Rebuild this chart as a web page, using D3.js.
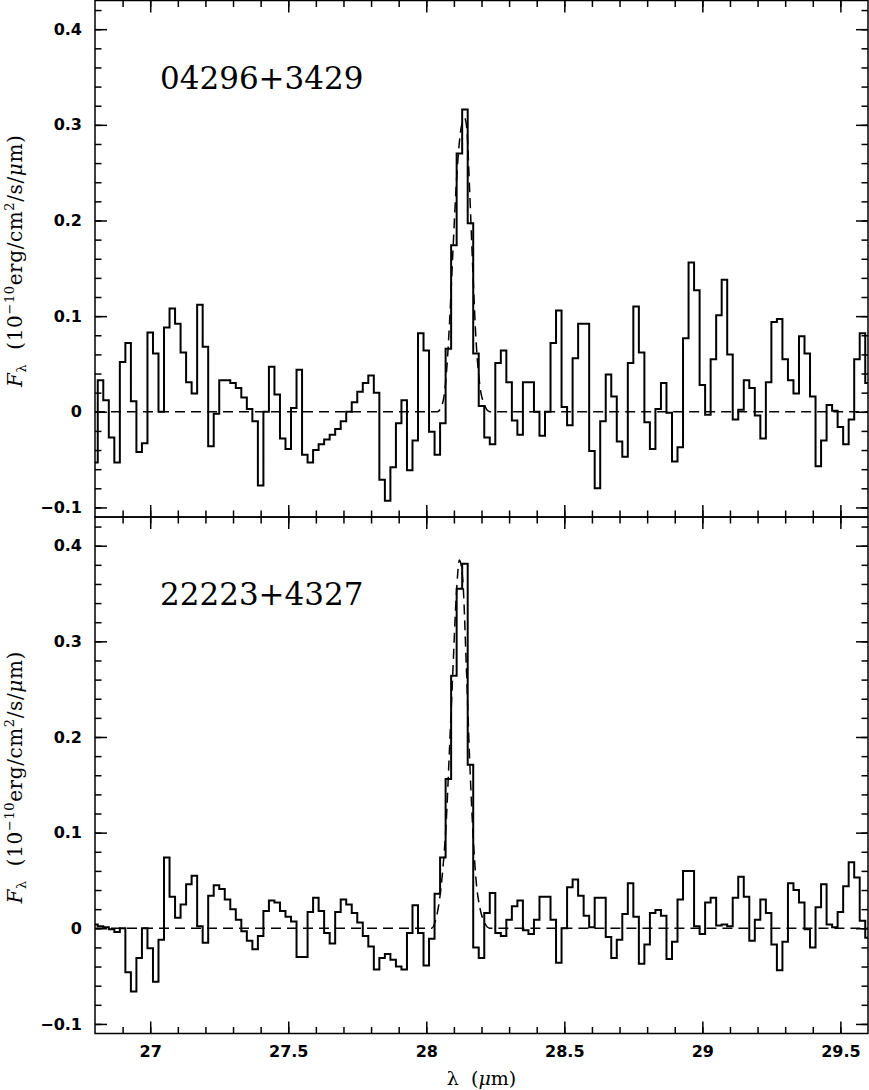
<!DOCTYPE html>
<html>
<head>
<meta charset="utf-8">
<script src="https://cdn.jsdelivr.net/npm/d3@7"></script>
<style>
body { margin: 0; background: #fff; }
svg { display: block; }
</style>
</head>
<body>
<svg id="chart" width="869" height="1090"></svg>
<script>
// wavelength grid of the spectra (bin centres, micron)
const lambdaStart = 26.80;
const binWidth = 0.02;

// flux per bin, 10^-10 erg/cm2/s/um
const flux04296 = [
  -0.053, 0.033, 0.012, -0.027, -0.053, 0.052, 0.072, 0.011, -0.042, -0.033,
  0.083, 0.061, 0.000, 0.088, 0.108, 0.092, 0.062, 0.031, 0.019, 0.112,
  0.068, -0.036, -0.002, 0.033, 0.033, 0.030, 0.025, 0.015, 0.003, -0.010,
  -0.077, 0.000, 0.047, 0.018, -0.028, -0.039, 0.004, 0.044, -0.045, -0.053,
  -0.040, -0.034, -0.029, -0.024, -0.018, -0.010, 0.000, 0.010, 0.021, 0.030,
  0.038, 0.020, -0.071, -0.093, -0.058, -0.012, 0.012, -0.061, -0.030, 0.082,
  0.064, -0.021, -0.045, -0.012, 0.066, 0.174, 0.270, 0.316, 0.197, 0.061,
  0.006, -0.027, -0.034, 0.051, 0.064, 0.031, -0.009, -0.024, 0.031, 0.031,
  0.000, -0.025, 0.000, 0.072, 0.106, 0.005, -0.014, 0.056, 0.092, 0.092,
  -0.041, -0.080, -0.010, 0.039, 0.016, -0.031, -0.047, 0.051, 0.110, 0.062,
  -0.011, -0.039, 0.003, 0.030, -0.001, -0.052, -0.037, 0.077, 0.156, 0.127,
  0.028, -0.003, 0.055, 0.101, 0.138, 0.060, -0.008, 0.002, 0.033, 0.025,
  -0.004, -0.028, 0.031, 0.094, 0.097, 0.055, 0.033, 0.019, 0.079, 0.061,
  0.016, -0.057, -0.030, 0.007, 0.001, -0.016, -0.034, -0.008, 0.055, 0.082,
  0.030
];

const flux22223 = [
  0.004, 0.002, 0.001, -0.001, -0.004, 0.000, -0.046, -0.066, -0.031, 0.000,
  -0.021, -0.056, -0.012, 0.074, 0.033, 0.011, 0.025, 0.046, 0.055, 0.002,
  -0.015, 0.034, 0.045, 0.041, 0.030, 0.020, 0.009, -0.003, -0.013, -0.022,
  -0.008, 0.018, 0.029, 0.027, 0.018, 0.012, 0.007, -0.030, -0.030, 0.017,
  0.032, 0.018, -0.005, -0.016, 0.017, 0.030, 0.025, 0.016, 0.006, -0.008,
  -0.019, -0.043, -0.031, -0.027, -0.033, -0.040, -0.043, -0.005, 0.024, -0.005,
  -0.039, -0.011, 0.036, 0.074, 0.156, 0.264, 0.355, 0.381, 0.171, -0.020,
  -0.031, 0.016, 0.037, -0.005, -0.008, 0.009, 0.023, 0.029, -0.002, -0.006,
  0.009, 0.033, 0.033, 0.009, -0.036, 0.000, 0.043, 0.051, 0.034, 0.013,
  0.001, 0.032, 0.032, -0.009, -0.031, -0.012, 0.015, 0.047, 0.012, -0.037,
  -0.017, 0.016, 0.019, 0.013, -0.032, -0.014, 0.030, 0.060, 0.060, 0.002,
  -0.006, 0.027, 0.032, 0.003, 0.004, 0.002, 0.032, 0.054, 0.033, -0.013,
  0.009, 0.030, 0.016, -0.017, -0.044, -0.014, 0.047, 0.040, 0.027, -0.001,
  -0.020, 0.022, 0.046, 0.004, 0.001, 0.017, 0.044, 0.069, 0.053, 0.008,
  -0.010
];

// dashed line fits
const fit04296X = [26.80, 28.040, 28.060, 28.072, 28.084, 28.096, 28.111, 28.127, 28.139, 28.147, 28.157, 28.169, 28.181, 28.193, 28.211, 28.230, 29.60];
const fit04296Y = [0, 0, 0.010, 0.037, 0.092, 0.165, 0.249, 0.298, 0.307, 0.295, 0.232, 0.145, 0.071, 0.030, 0.007, 0, 0];
const fit22223X = [26.80, 28.018, 28.036, 28.048, 28.060, 28.072, 28.084, 28.096, 28.108, 28.120, 28.132, 28.145, 28.157, 28.169, 28.181, 28.193, 28.211, 28.230, 29.60];
const fit22223Y = [0, 0, 0.011, 0.030, 0.062, 0.110, 0.187, 0.267, 0.344, 0.385, 0.365, 0.274, 0.177, 0.100, 0.048, 0.023, 0.006, 0, 0];

// axis ticks
const xTicks = [27, 27.5, 28, 28.5, 29, 29.5];
const xMinorTicks = d3.range(269, 296).map(d => d / 10);
const yTicks = [-0.1, 0, 0.1, 0.2, 0.3, 0.4];
const yMinorTicks = d3.range(-5, 22).map(d => d / 50);

const left = 95, right = 868;
const svg = d3.select("#chart");

const x = d3.scaleLinear().domain([26.8, 29.6]).range([left, right]);

const panels = [
  { id: "p1", name: "04296+3429", flux: flux04296, fitX: fit04296X, fitY: fit04296Y, top: 0.5, bottom: 517, labels: false },
  { id: "p2", name: "22223+4327", flux: flux22223, fitX: fit22223X, fitY: fit22223Y, top: 517, bottom: 1033.5, labels: true }
];

const yFormat = d => d === 0 ? "0" : d3.format(".1f")(d);

function styleAxis(g) {
  g.select(".domain").remove();
  g.selectAll("line").attr("stroke", "#000").attr("stroke-width", 1.5);
  g.selectAll("text")
    .attr("fill", "#000")
    .attr("font-family", "'DejaVu Sans', sans-serif")
    .attr("font-weight", "bold")
    .attr("font-size", 16);
}

panels.forEach(p => {
  const y = d3.scaleLinear().domain([-0.11, 0.43]).range([p.bottom, p.top]);
  const g = svg.append("g");

  g.append("clipPath").attr("id", "clip-" + p.id)
    .append("rect")
    .attr("x", left).attr("y", p.top)
    .attr("width", right - left).attr("height", p.bottom - p.top);

  const plot = g.append("g").attr("clip-path", `url(#clip-${p.id})`);

  // dashed fitted profile on zero continuum
  const fitPts = p.fitX.map((d, i) => [d, p.fitY[i]]);
  plot.append("path")
    .attr("d", d3.line().x(d => x(d[0])).y(d => y(d[1])).curve(d3.curveMonotoneX)(fitPts))
    .attr("fill", "none")
    .attr("stroke", "#000")
    .attr("stroke-width", 1.5)
    .attr("stroke-dasharray", "10,6");

  // histogram spectrum
  const pts = p.flux.map((v, i) => [lambdaStart + i * binWidth, v]);
  plot.append("path")
    .attr("d", d3.line().x(d => x(d[0])).y(d => y(d[1])).curve(d3.curveStep)(pts))
    .attr("fill", "none")
    .attr("stroke", "#000")
    .attr("stroke-width", 2);

  // axes, ticks inward on all four sides
  g.append("g").attr("transform", `translate(${left},0)`)
    .call(d3.axisLeft(y).tickValues(yTicks).tickSize(-12).tickPadding(13).tickFormat(yFormat))
    .call(styleAxis);
  g.append("g").attr("transform", `translate(${left},0)`)
    .call(d3.axisLeft(y).tickValues(yMinorTicks).tickSize(-6.5).tickFormat(""))
    .call(styleAxis);
  g.append("g").attr("transform", `translate(${right},0)`)
    .call(d3.axisRight(y).tickValues(yTicks).tickSize(-12).tickFormat(""))
    .call(styleAxis);
  g.append("g").attr("transform", `translate(${right},0)`)
    .call(d3.axisRight(y).tickValues(yMinorTicks).tickSize(-6.5).tickFormat(""))
    .call(styleAxis);

  g.append("g").attr("transform", `translate(0,${p.top})`)
    .call(d3.axisTop(x).tickValues(xTicks).tickSize(-12).tickFormat(""))
    .call(styleAxis);
  g.append("g").attr("transform", `translate(0,${p.top})`)
    .call(d3.axisTop(x).tickValues(xMinorTicks).tickSize(-6.5).tickFormat(""))
    .call(styleAxis);
  g.append("g").attr("transform", `translate(0,${p.bottom})`)
    .call(d3.axisBottom(x).tickValues(xTicks).tickSize(-12).tickPadding(12)
      .tickFormat(p.labels ? d3.format("") : ""))
    .call(styleAxis);
  g.append("g").attr("transform", `translate(0,${p.bottom})`)
    .call(d3.axisBottom(x).tickValues(xMinorTicks).tickSize(-6.5).tickFormat(""))
    .call(styleAxis);

  // frame
  g.append("rect")
    .attr("x", left).attr("y", p.top)
    .attr("width", right - left).attr("height", p.bottom - p.top)
    .attr("fill", "none").attr("stroke", "#000").attr("stroke-width", 1.5);

  // object name
  g.append("text")
    .attr("x", 160).attr("y", p.top + 88)
    .attr("font-family", "'DejaVu Serif', serif")
    .attr("font-size", 31)
    .text(p.name);

  // y axis title
  const yl = g.append("text")
    .attr("transform", `translate(22,${(p.top + p.bottom) / 2 + 2}) rotate(-90)`)
    .attr("text-anchor", "middle")
    .attr("font-family", "'DejaVu Serif', serif")
    .attr("font-size", 20)
    .attr("letter-spacing", 0.6);
  yl.append("tspan").attr("font-style", "italic").text("F");
  yl.append("tspan").attr("font-size", 13).attr("dy", 4).text("λ");
  yl.append("tspan").attr("dy", -4).text("\u00a0\u00a0(10");
  yl.append("tspan").attr("font-size", 13).attr("dy", -8).text("−10");
  yl.append("tspan").attr("dy", 8).text("erg/cm");
  yl.append("tspan").attr("font-size", 13).attr("dy", -8).text("2");
  yl.append("tspan").attr("dy", 8).text("/s/");
  yl.append("tspan").attr("font-style", "italic").text("μ");
  yl.append("tspan").text("m)");
});

// x axis title
const xl = svg.append("text")
  .attr("x", x(28.2)).attr("y", 1085)
  .attr("text-anchor", "middle")
  .attr("font-family", "'DejaVu Serif', serif")
  .attr("font-size", 19);
xl.append("tspan").text("λ\u00a0\u00a0(");
xl.append("tspan").attr("font-style", "italic").text("μ");
xl.append("tspan").text("m)");
</script>
</body>
</html>
